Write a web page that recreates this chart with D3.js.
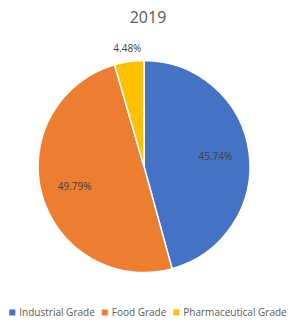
<!DOCTYPE html>
<html>
<head>
<meta charset="utf-8">
<script src="https://cdn.jsdelivr.net/npm/d3@7"></script>
<style>
  body { margin: 0; background: #fff; }
  svg { display: block; font-family: "Open Sans", "DejaVu Sans", sans-serif; }
</style>
</head>
<body>
<div id="chart"></div>
<script>
// chart data
const categories = ['Industrial Grade', 'Food Grade', 'Pharmaceutical Grade'];
const values = [45.74, 49.79, 4.48];
const colors = ['#4472C4', '#ED7D31', '#FFC000'];
const title = '2019';

const width = 296, height = 328;
const cx = 144, cy = 166.5, radius = 106;

const svg = d3.select('#chart')
    .append('svg')
    .attr('width', width)
    .attr('height', height);

svg.append('text')
    .attr('x', width / 2)
    .attr('y', 23)
    .attr('text-anchor', 'middle')
    .attr('fill', '#595959')
    .attr('font-size', '16px')
    .text(title);

const pie = d3.pie().sort(null).value(d => d);
const arcs = pie(values);
const arc = d3.arc().innerRadius(0).outerRadius(radius);

const g = svg.append('g').attr('transform', `translate(${cx}, ${cy})`);

g.selectAll('path')
    .data(arcs)
    .join('path')
    .attr('d', arc)
    .attr('fill', (d, i) => colors[i])
    .attr('stroke', '#fff')
    .attr('stroke-width', 1.5);

// label positions: inside for large slices, outside for the small one
const labelArcIn = d3.arc().innerRadius(radius * 0.68).outerRadius(radius * 0.68);
const labelArcOut = d3.arc().innerRadius(radius * 1.12).outerRadius(radius * 1.12);

g.selectAll('text.lbl')
    .data(arcs)
    .join('text')
    .attr('class', 'lbl')
    .attr('transform', d => {
        const p = (d.data < 10 ? labelArcOut : labelArcIn).centroid(d);
        return `translate(${p[0]}, ${p[1]})`;
    })
    .attr('text-anchor', 'middle')
    .attr('dy', '0.35em')
    .attr('fill', '#404040')
    .attr('font-size', '10px')
    .text(d => d.data.toFixed(2) + '%');

// legend, fitted to the width
const legend = svg.append('g').attr('transform', 'translate(0, 316)');
let x = 0;
categories.forEach((c, i) => {
    legend.append('rect')
        .attr('x', x)
        .attr('y', -6.5)
        .attr('width', 6)
        .attr('height', 6)
        .attr('fill', colors[i]);
    const t = legend.append('text')
        .attr('x', x + 10)
        .attr('y', 0)
        .attr('fill', '#595959')
        .attr('font-size', '10px')
        .text(c);
    x += 10 + t.node().getComputedTextLength() + (i < categories.length - 1 ? 7 : 0);
});
legend.attr('transform', `translate(${(width - x) / 2}, 316)`);
</script>
</body>
</html>
